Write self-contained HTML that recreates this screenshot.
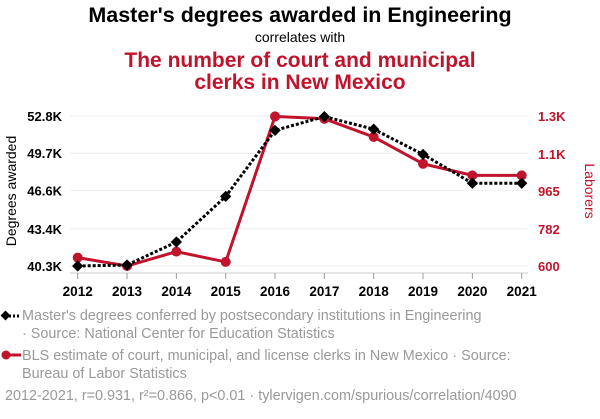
<!DOCTYPE html>
<html><head><meta charset="utf-8"><style>
body{margin:0;background:#fff;width:600px;height:414px;overflow:hidden;font-family:"Liberation Sans",sans-serif}
svg text{font-family:"Liberation Sans",sans-serif}
</style></head><body>
<svg id="chart" width="600" height="414">
<text x="300" y="22" text-anchor="middle" font-size="21.5" font-weight="bold" fill="#000">Master's degrees awarded in Engineering</text>
<text x="300" y="42" text-anchor="middle" font-size="14" fill="#000">correlates with</text>
<text x="300" y="67" text-anchor="middle" font-size="21" font-weight="bold" fill="#c0142c">The number of court and municipal</text>
<text x="300" y="89" text-anchor="middle" font-size="21" font-weight="bold" fill="#c0142c">clerks in New Mexico</text>
<text transform="translate(16,191) rotate(-90)" text-anchor="middle" font-size="14" fill="#000">Degrees awarded</text>
<text transform="translate(585,191) rotate(90)" text-anchor="middle" font-size="14" fill="#c0142c">Laborers</text>
<g id="grid"></g><g id="axes"></g><g id="series"></g>
<g>
<line x1="5" y1="316" x2="21" y2="316" stroke="#000" stroke-width="3" stroke-dasharray="2,2"/>
<rect x="2" y="312" width="7" height="7" fill="#000" transform="rotate(45 5.5 315.5)"/>
<text x="22" y="320" font-size="14.4" fill="#999">Master's degrees conferred by postsecondary institutions in Engineering</text>
<text x="22" y="338" font-size="14.4" fill="#999">· Source: National Center for Education Statistics</text>
<line x1="5" y1="355" x2="21" y2="355" stroke="#c0142c" stroke-width="3"/>
<circle cx="6" cy="355" r="4.5" fill="#c0142c"/>
<text x="22" y="360" font-size="14.4" fill="#999">BLS estimate of court, municipal, and license clerks in New Mexico · Source:</text>
<text x="22" y="378" font-size="14.4" fill="#999">Bureau of Labor Statistics</text>
<text x="5" y="400" font-size="14.4" fill="#999">2012-2021, r=0.931, r²=0.866, p&lt;0.01 · tylervigen.com/spurious/correlation/4090</text>
</g>
</svg>
<script>
const years=[2012,2013,2014,2015,2016,2017,2018,2019,2020,2021];
const degrees=[40.3,40.38,42.3,46.1,51.6,52.75,51.7,49.6,47.2,47.2];
const clerks=[639,600,667,619,1298,1287,1202,1077,1023,1023];
const leftTicks=[40.3,43.4,46.6,49.7,52.8];
const leftLabels=["40.3K","43.4K","46.6K","49.7K","52.8K"];
const rightTicks=[600,773,950,1122,1300];
const rightLabels=["600","782","965","1.1K","1.3K"];
const NS="http://www.w3.org/2000/svg";
const x=y=>77.7+(y-2012)*(521.7-77.7)/9;
const yL=v=>266-(v-40.3)*150/12.5;
const yR=v=>266-(v-600)*150/700;
function mk(t,a,p){const e=document.createElementNS(NS,t);for(const k in a)e.setAttribute(k,a[k]);p.appendChild(e);return e;}
const grid=document.getElementById('grid'),axes=document.getElementById('axes'),ser=document.getElementById('series');
leftTicks.forEach((v,i)=>{
 const g=mk('line',{x1:70,x2:528,y1:yL(v),y2:yL(v),stroke:'#eee','stroke-width':1},grid);
 
 
 const t=mk('text',{x:62,y:yL(v)+5,'text-anchor':'end','font-size':13,'font-weight':'bold',fill:'#000'},axes);t.textContent=leftLabels[i];
 
 
});
rightTicks.forEach((v,i)=>{
 const t=mk('text',{x:538,y:yR(v)+5,'font-size':13,'font-weight':'bold',fill:'#c0142c'},axes);t.textContent=rightLabels[i];
 
 
});
mk('line',{x1:70,x2:528,y1:273,y2:273,stroke:'#ccc'},axes);
years.forEach(yr=>{
 mk('line',{x1:x(yr),x2:x(yr),y1:273,y2:279,stroke:'#999'},axes);
 const t=mk('text',{x:x(yr),y:296,'text-anchor':'middle','font-size':13.5,'font-weight':'bold',fill:'#000'},axes);t.textContent=yr;
 
 
});
const rp=mk('polyline',{points:years.map((yr,i)=>x(yr)+','+yR(clerks[i])).join(' '),fill:'none',stroke:'#c0142c','stroke-width':3},ser);


clerks.forEach((v,i)=>{const c=mk('circle',{cx:x(years[i]),cy:yR(v),r:5,fill:'#c0142c'},ser);
 
 });
const bp=mk('polyline',{points:years.map((yr,i)=>x(yr)+','+yL(degrees[i])).join(' '),fill:'none',stroke:'#000','stroke-width':3,'stroke-dasharray':'3,2'},ser);


degrees.forEach((v,i)=>{const cx=x(years[i]),cy=yL(v);
 const d=mk('rect',{x:cx-4,y:cy-4,width:8,height:8,fill:'#000',transform:`rotate(45 ${cx} ${cy})`},ser);
 
 });
</script>
</body></html>
